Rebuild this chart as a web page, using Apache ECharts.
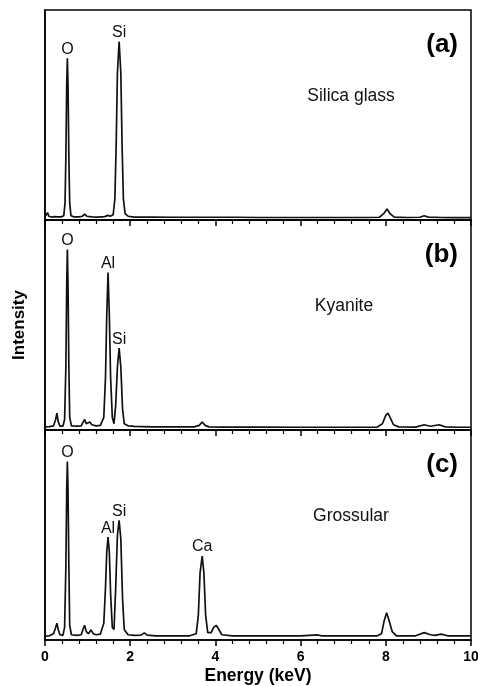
<!DOCTYPE html>
<html>
<head>
<meta charset="utf-8">
<script src="https://cdn.jsdelivr.net/npm/echarts@6/dist/echarts.min.js"></script>
<style>
html,body{margin:0;padding:0;background:#fff;}
#chart{width:478px;height:686px;}
</style>
</head>
<body>
<div id="chart"></div>
<script>
// X axis ticks (keV)
const xTicks = [0, 2, 4, 6, 8, 10];

// Panel (a) Silica glass: [energy keV, intensity % of panel]
const spectrumA = [
  [0.0,1.5],[0.03,1.5],[0.06,3.5],[0.09,1.8],[0.15,1.4],[0.22,1.6],[0.3,1.5],[0.38,1.5],
  [0.44,2],[0.47,8],[0.49,30],[0.51,65],[0.525,77],[0.54,65],[0.56,30],[0.58,8],[0.61,2],
  [0.68,1.5],[0.8,1.5],[0.88,1.8],[0.93,2.8],[0.98,1.8],[1.1,1.5],[1.25,1.4],[1.4,1.6],
  [1.48,2.2],[1.53,1.8],[1.6,2.5],[1.64,10],[1.67,35],[1.70,70],[1.74,85],[1.78,70],
  [1.81,35],[1.84,10],[1.88,3],[1.95,1.8],[2.1,1.4],[2.5,1.4],[3,1.3],[3.5,1.3],[4,1.3],
  [4.5,1.3],[5,1.2],[5.5,1.2],[6,1.2],[6.5,1.2],[7,1.2],[7.5,1.2],[7.85,1.3],[7.95,3],
  [8.03,5.2],[8.1,3],[8.2,1.4],[8.5,1.2],[8.8,1.3],[8.9,2],[9.0,1.4],[9.3,1.2],[9.6,1.1],[10,1.1]
];
// Panel (b) Kyanite
const spectrumB = [
  [0,1.5],[0.1,1.6],[0.2,2],[0.25,5],[0.28,8],[0.31,4],[0.35,1.8],[0.42,1.8],[0.46,5],
  [0.49,30],[0.51,70],[0.525,86],[0.54,70],[0.56,30],[0.58,6],[0.62,2],[0.75,1.8],[0.85,2],
  [0.9,4],[0.93,5],[0.97,3],[1.0,2.5],[1.05,3.8],[1.1,2.5],[1.2,2],[1.3,2.2],[1.38,6],
  [1.42,25],[1.45,55],[1.48,75],[1.51,55],[1.54,25],[1.58,6],[1.62,3],[1.66,12],[1.70,30],
  [1.74,39],[1.78,30],[1.82,10],[1.86,3],[1.95,2],[2.1,1.7],[2.5,1.5],[3.0,1.5],[3.5,1.5],
  [3.62,2.2],[3.69,3.8],[3.76,2.2],[3.85,1.5],[4.2,1.4],[5,1.4],[6,1.3],[7,1.3],[7.8,1.4],
  [7.92,3],[8.0,7],[8.05,8],[8.1,6],[8.18,2.5],[8.3,1.5],[8.7,1.4],[8.9,2.5],[9.05,1.8],
  [9.25,2.5],[9.4,1.5],[9.7,1.3],[10,1.3]
];
// Panel (c) Grossular
const spectrumC = [
  [0,1.8],[0.1,2],[0.2,3],[0.25,6],[0.28,8],[0.31,5],[0.35,2.5],[0.42,2.2],[0.46,6],
  [0.49,35],[0.51,72],[0.525,85],[0.54,72],[0.56,35],[0.58,7],[0.62,2.5],[0.75,2.2],
  [0.85,2.5],[0.9,5.5],[0.93,7],[0.97,4],[1.02,3],[1.08,4.8],[1.13,3],[1.2,2.5],[1.3,2.8],
  [1.38,8],[1.42,25],[1.45,42],[1.48,49],[1.51,42],[1.54,22],[1.58,6],[1.62,5],[1.66,25],
  [1.70,50],[1.74,57],[1.78,48],[1.82,20],[1.86,5],[1.95,2.5],[2.1,2.2],[2.25,2.3],
  [2.33,3.4],[2.4,2.3],[2.6,2],[3.0,2],[3.4,2],[3.55,3],[3.60,12],[3.64,32],[3.69,40],
  [3.73,32],[3.77,12],[3.82,3.5],[3.9,3.5],[3.96,6],[4.02,7],[4.08,5],[4.15,2.5],[4.4,2],
  [5,2],[5.5,2],[6,2],[6.4,2.4],[6.5,2],[7,2],[7.8,2],[7.9,3],[7.96,9],[8.02,13],[8.08,9],
  [8.15,4],[8.25,2],[8.7,2],[8.9,3.5],[9.05,2.5],[9.15,2.2],[9.3,2.8],[9.45,2],[9.7,2],[10,2]
];

// Peak labels: [element, energy, intensity]
const peaksA = [['O',0.525,77],['Si',1.74,85]];
const peaksB = [['O',0.525,86],['Al',1.48,75],['Si',1.74,39]];
const peaksC = [['O',0.525,85],['Al',1.48,49],['Si',1.74,57],['Ca',3.69,40]];

const panelTags = ['(a)','(b)','(c)'];
const sampleNames = ['Silica glass','Kyanite','Grossular'];

const FONT = '"Liberation Sans", Arial, sans-serif';
const tops = [10, 220, 430];
const nameCenters = [351, 344, 351];
const H = 210, LEFT = 45, RIGHT = 7;
const spectra = [spectrumA, spectrumB, spectrumC];
const peaks = [peaksA, peaksB, peaksC];

const grids = [], xAxes = [], yAxes = [], series = [], graphics = [];
for (let i = 0; i < 3; i++) {
  grids.push({left: LEFT, right: RIGHT, top: tops[i], height: H, show: true,
    containLabel: false, outerBoundsMode: 'none',
    borderColor: '#000', borderWidth: 1.5, backgroundColor: 'transparent'});
  const last = i === 2;
  xAxes.push({type: 'value', gridIndex: i, min: xTicks[0], max: xTicks[xTicks.length-1], interval: 2,
    axisLine: {show: true, onZero: false, lineStyle: {color: '#000', width: 1.5}},
    axisTick: {show: true, inside: false, length: 6, lineStyle: {color: '#000', width: 1.5}},
    minorTick: {show: true, splitNumber: 5, length: 4, lineStyle: {color: '#000', width: 1.2}},
    splitLine: {show: false},
    axisLabel: {show: last, color: '#000', fontWeight: 'bold', fontSize: 14, fontFamily: FONT, margin: 10},
    name: last ? 'Energy (keV)' : '', nameLocation: 'middle', nameGap: 27,
    nameTextStyle: {color: '#000', fontWeight: 'bold', fontSize: 17.5, fontFamily: FONT}
  });
  yAxes.push({type: 'value', gridIndex: i, min: 0, max: 100,
    axisLine: {show: true, lineStyle: {color: '#000', width: 1.5}},
    axisTick: {show: false}, axisLabel: {show: false}, splitLine: {show: false},
    name: i === 1 ? 'Intensity' : '', nameLocation: 'middle', nameGap: 17, nameRotate: 90,
    nameTextStyle: {color: '#000', fontWeight: 'bold', fontSize: 17, fontFamily: FONT}
  });
  series.push({type: 'line', xAxisIndex: i, yAxisIndex: i, data: spectra[i],
    showSymbol: false, symbol: 'none', lineStyle: {color: '#111', width: 1.7}, silent: true,
    markPoint: {symbol: 'circle', symbolSize: 0, silent: true,
      label: {show: true, position: 'top', distance: 1, formatter: '{b}', color: '#111',
        fontSize: 16, fontFamily: FONT},
      data: peaks[i].map(p => ({name: p[0], coord: [p[1], p[2]]}))
    }
  });
  graphics.push({type: 'text', right: 20, top: tops[i] + 22,
    style: {text: panelTags[i], font: 'bold 26px ' + FONT, fill: '#000'}});
  graphics.push({type: 'text', x: nameCenters[i], y: tops[i] + 86,
    style: {text: sampleNames[i], font: '17.5px ' + FONT, fill: '#111', textAlign: 'center', textVerticalAlign: 'middle'}});
}

const chart = echarts.init(document.getElementById('chart'), null, {renderer: 'canvas'});
chart.setOption({
  backgroundColor: '#fff', animation: false,
  grid: grids, xAxis: xAxes, yAxis: yAxes, series: series, graphic: graphics
});
</script>
</body>
</html>
